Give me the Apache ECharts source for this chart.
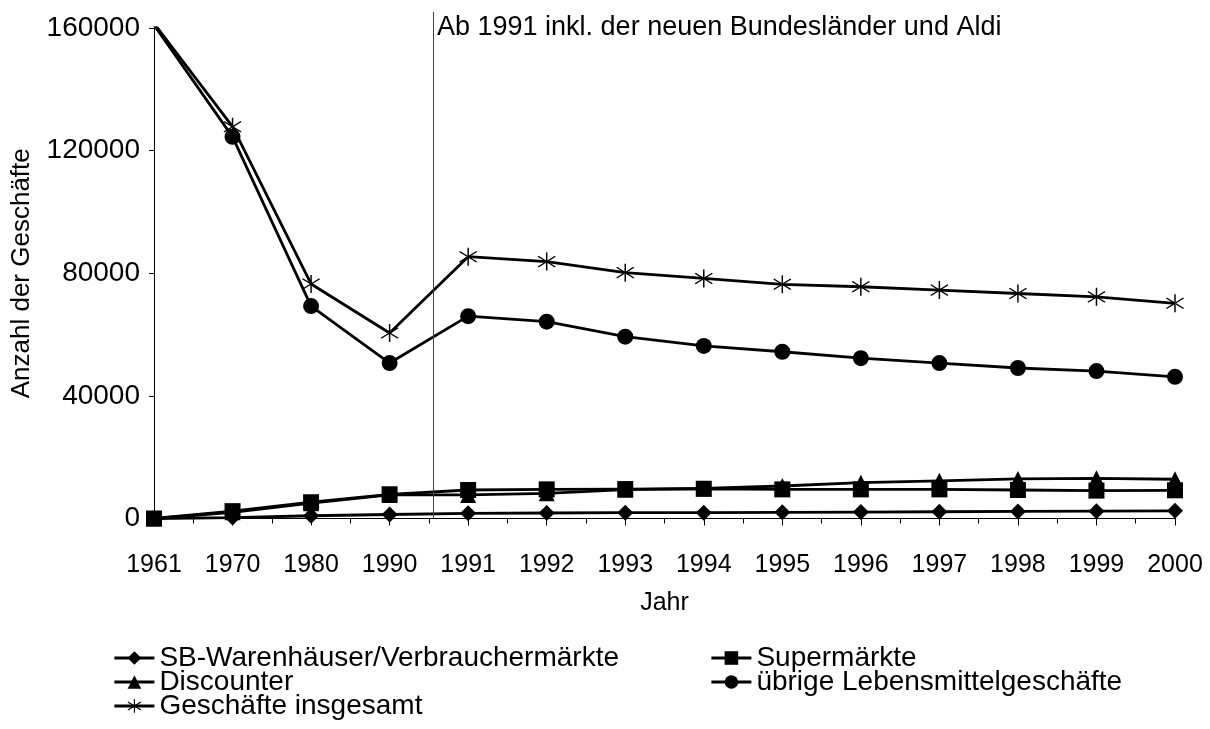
<!DOCTYPE html>
<html>
<head>
<meta charset="utf-8">
<script src="https://cdn.jsdelivr.net/npm/echarts@6/dist/echarts.min.js"></script>
<style>
  html, body { margin: 0; padding: 0; background: #fff; }
  #chart { width: 1210px; height: 729px; }
</style>
</head>
<body>
<div id="chart"></div>
<script>
// Jahre (Kategorien)
var years = ["1961", "1970", "1980", "1990", "1991", "1992", "1993", "1994", "1995", "1996", "1997", "1998", "1999", "2000"];

// Werte
var sbWarenhaeuser = [0, 300, 900, 1300, 1700, 1800, 1900, 1900, 2000, 2100, 2200, 2300, 2400, 2500];
var supermaerkte   = [0, 2400, 5300, 7900, 9300, 9500, 9600, 9700, 9500, 9500, 9500, 9300, 9100, 9200];
var discounter     = [0, 2000, 5000, 7700, 7700, 8200, 9400, 9800, 10600, 11700, 12300, 12900, 13100, 12800];
var uebrige        = [161000, 124500, 69300, 50700, 66000, 64200, 59300, 56300, 54400, 52300, 50700, 49100, 48100, 46200];
var insgesamt      = [161500, 127800, 76500, 60500, 85400, 83800, 80200, 78300, 76400, 75600, 74500, 73400, 72300, 70200];

var yTicks = [0, 40000, 80000, 120000, 160000];
var breakPos = 3.55;      // Trennlinie zwischen 1990 und 1991
var breakTop = 165200;    // Linie ragt etwas über die Achse hinaus
var noteText = "Ab 1991 inkl. der neuen Bundesländer und Aldi";

var FONT = "Liberation Sans, Arial, sans-serif";
var starPath = "path://M-0.6,-8.5L0.6,-8.5L0.6,8.5L-0.6,8.5Z" +
    "M-7.35,-4.51L6.65,5.49L7.35,4.51L-6.65,-5.49Z" +
    "M-6.65,5.49L7.35,-4.51L6.65,-5.49L-7.35,4.51Z";

function lineSeries(name, data, symbol, size) {
    return {
        name: name,
        type: "line",
        data: data,
        symbol: symbol,
        symbolSize: size,
        showAllSymbol: true,
        color: "#000",
        lineStyle: { color: "#000", width: 2.8 },
        itemStyle: { color: "#000" },
        animation: false
    };
}

function legendBox(names, left) {
    return {
        data: names,
        orient: "vertical",
        left: left,
        top: 644,
        padding: 0,
        itemWidth: 40,
        itemHeight: 17,
        itemGap: -4,
        lineStyle: { width: 2.8, color: "#000" },
        textStyle: { fontSize: 28, color: "#000", fontFamily: FONT }
    };
}

var chart = echarts.init(document.getElementById("chart"));
var option = {
    backgroundColor: "#fff",
    animation: false,
    textStyle: { fontFamily: FONT, color: "#000" },
    grid: [
        { left: 154, right: 35, top: 28, bottom: 210.5 },
        { left: 154, right: 35, top: 12, bottom: 210.5 }
    ],
    xAxis: [{
        type: "category",
        gridIndex: 0,
        data: years,
        boundaryGap: false,
        axisLine: { lineStyle: { color: "#000", width: 1 } },
        axisTick: { show: true, length: 7, lineStyle: { color: "#000" } },
        axisLabel: { fontSize: 25, color: "#000", margin: 34, fontFamily: FONT },
        name: "Jahr",
        nameLocation: "middle",
        nameGap: 72,
        nameTextStyle: { fontSize: 25, color: "#000", fontFamily: FONT },
        splitLine: { show: false }
    }, {
        // Hilfsachse für Zwischenstriche und Trennlinie
        type: "value",
        gridIndex: 1,
        min: 0,
        max: years.length - 1,
        interval: 0.5,
        axisLine: { show: false },
        axisTick: { show: true, length: 5, lineStyle: { color: "#000" } },
        axisLabel: { show: false },
        splitLine: { show: false }
    }],
    yAxis: [{
        type: "value",
        gridIndex: 0,
        min: yTicks[0],
        max: yTicks[yTicks.length - 1],
        interval: 40000,
        axisLine: { show: true, lineStyle: { color: "#000", width: 1 } },
        axisTick: { show: true, length: 5, lineStyle: { color: "#000" } },
        axisLabel: {
            fontSize: 28, color: "#000", margin: 14, fontFamily: FONT,
            formatter: function (v) { return String(v); }
        },
        splitLine: { show: false },
        name: "Anzahl der Geschäfte",
        nameLocation: "middle",
        nameRotate: 90,
        nameGap: 119,
        nameTextStyle: { fontSize: 26, color: "#000", fontFamily: FONT }
    }, {
        type: "value",
        gridIndex: 1,
        min: 0,
        max: breakTop,
        show: false
    }],
    legend: [
        legendBox(["SB-Warenhäuser/Verbrauchermärkte", "Discounter", "Geschäfte insgesamt"], 113),
        legendBox(["Supermärkte", "übrige Lebensmittelgeschäfte"], 710)
    ],
    graphic: [{
        type: "text",
        left: 437,
        top: 14,
        style: { text: noteText, font: "27px " + FONT, fill: "#000" }
    }],
    series: [
        lineSeries("SB-Warenhäuser/Verbrauchermärkte", sbWarenhaeuser, "diamond", 16),
        lineSeries("Discounter", discounter, "triangle", 16),
        lineSeries("Supermärkte", supermaerkte, "rect", 16),
        lineSeries("übrige Lebensmittelgeschäfte", uebrige, "circle", 16),
        lineSeries("Geschäfte insgesamt", insgesamt, starPath, 18),
        {
            name: "_trenner",
            type: "line",
            xAxisIndex: 1,
            yAxisIndex: 1,
            data: [[0, 0], [years.length - 1, 0]],
            symbol: "none",
            lineStyle: { width: 0, color: "transparent" },
            silent: true,
            markLine: {
                silent: true,
                symbol: "none",
                animation: false,
                label: { show: false },
                lineStyle: { color: "#444", width: 1, type: "solid", opacity: 1 },
                data: [[{ coord: [breakPos, breakTop] }, { coord: [breakPos, 0] }]]
            }
        }
    ]
};
chart.setOption(option);
</script>
</body>
</html>
